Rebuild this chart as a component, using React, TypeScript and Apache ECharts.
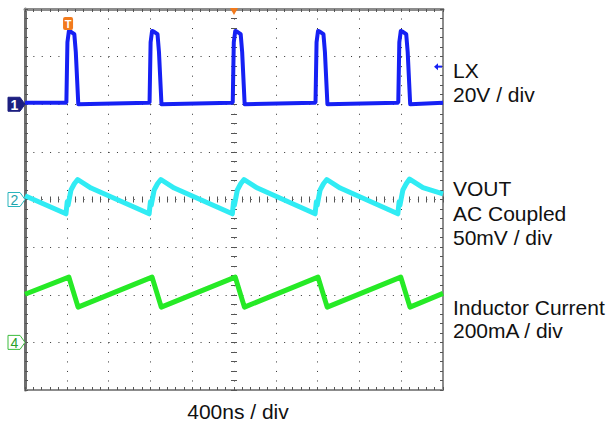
import React, { useEffect, useRef } from "react";
import * as echarts from "echarts";

// Time axis (ns), 400 ns per division, 10 divisions
const X_MIN = 0;
const X_MAX = 4000;
const X_STEP = 400;
// Vertical axis in screen divisions
const Y_MIN = -4;
const Y_MAX = 4;
const Y_STEP = 1;

// CH1 LX (divisions)
const lxTrace: [number, number][] = [
  [0, 2.03],
  [388, 2.03], [396, 2.05], [406, 3.3], [420, 3.54], [440, 3.52], [472, 3.47], [486, 3.1], [510, 2.0],
  [1184, 2.03], [1192, 2.05], [1202, 3.3], [1216, 3.54], [1236, 3.52], [1268, 3.47], [1282, 3.1], [1306, 2.0],
  [1980, 2.03], [1988, 2.05], [1998, 3.3], [2012, 3.54], [2032, 3.52], [2064, 3.47], [2078, 3.1], [2102, 2.0],
  [2772, 2.03], [2780, 2.05], [2790, 3.3], [2804, 3.54], [2824, 3.52], [2856, 3.47], [2870, 3.1], [2894, 2.0],
  [3564, 2.03], [3572, 2.05], [3582, 3.3], [3596, 3.54], [3616, 3.52], [3648, 3.47], [3662, 3.1], [3686, 2.0],
  [4000, 2.03],
];

// CH2 VOUT (divisions)
const voutTrace: [number, number][] = [
  [0, 0.08],
  [392, -0.3], [404, -0.05], [412, -0.12], [440, 0.2], [472, 0.33], [504, 0.42], [632, 0.24],
  [1188, -0.3], [1200, -0.05], [1208, -0.12], [1236, 0.2], [1268, 0.33], [1300, 0.42], [1428, 0.24],
  [1984, -0.3], [1996, -0.05], [2004, -0.12], [2032, 0.2], [2064, 0.33], [2096, 0.42], [2224, 0.24],
  [2776, -0.3], [2788, -0.05], [2796, -0.12], [2824, 0.2], [2856, 0.33], [2888, 0.42], [3016, 0.24],
  [3568, -0.3], [3580, -0.05], [3588, -0.12], [3616, 0.2], [3648, 0.33], [3680, 0.43], [3808, 0.25],
  [4000, 0.12],
];

// CH4 inductor current (divisions)
const currentTrace: [number, number][] = [
  [0, -1.99],
  [420, -1.63], [508, -2.26],
  [1216, -1.63], [1304, -2.26],
  [2012, -1.63], [2100, -2.26],
  [2804, -1.63], [2892, -2.26],
  [3596, -1.63], [3684, -2.26],
  [4000, -1.97],
];

const channelLabels = ["1", "2", "4"];
const channelLevels = [2, 0, -3];
const triggerTime = 412;
const triggerLevel = 2.79;

const sideTexts = ["LX", "20V / div", "VOUT", "AC Coupled", "50mV / div", "Inductor Current", "200mA / div"];
const timebaseText = "400ns / div";

const FONT = "'Liberation Sans', Arial, Helvetica, sans-serif";

export default function App() {
  const ref = useRef<HTMLDivElement>(null);
  useEffect(() => {
    if (!ref.current) return;
    const chart = echarts.init(ref.current, undefined, { renderer: "svg" });
    const gridW = 418;
    const gridH = 381;
    const tickStyle = { color: "#555", width: 1 };
    const xBase = {
      type: "value" as const,
      min: X_MIN,
      max: X_MAX,
      interval: X_STEP,
      axisLabel: { show: false },
      splitLine: { show: false },
    };
    const yBase = {
      type: "value" as const,
      min: Y_MIN,
      max: Y_MAX,
      interval: Y_STEP,
      axisLabel: { show: false },
      splitLine: { show: false },
    };
    chart.setOption({
      animation: false,
      backgroundColor: "#ffffff",
      grid: { left: 25, top: 9, width: gridW, height: gridH },
      xAxis: [
        {
          ...xBase,
          position: "bottom",
          axisLine: { show: true, onZero: false, lineStyle: { color: "#8c8c8c", width: 2 } },
          axisTick: { show: true, inside: true, length: 3, lineStyle: tickStyle },
          minorTick: { show: true, splitNumber: 5, length: 3, lineStyle: tickStyle },
          splitLine: { show: true, lineStyle: { type: [1, 8.525], color: "#333", width: 1 } },
        },
        {
          ...xBase,
          position: "top",
          axisLine: { show: true, onZero: false, lineStyle: { color: "#8c8c8c", width: 3 } },
          axisTick: { show: true, inside: true, length: 3, lineStyle: tickStyle },
          minorTick: { show: true, splitNumber: 5, length: 3, lineStyle: tickStyle },
        },
        {
          ...xBase,
          position: "bottom",
          offset: -gridH / 2,
          axisLine: { show: false, onZero: false },
          axisTick: { show: true, inside: false, length: 3, lineStyle: tickStyle },
          minorTick: { show: true, splitNumber: 5, length: 3, lineStyle: tickStyle },
        },
        {
          ...xBase,
          position: "top",
          offset: -gridH / 2,
          axisLine: { show: false, onZero: false },
          axisTick: { show: true, inside: false, length: 3, lineStyle: tickStyle },
          minorTick: { show: true, splitNumber: 5, length: 3, lineStyle: tickStyle },
        },
      ],
      yAxis: [
        {
          ...yBase,
          position: "left",
          axisLine: { show: true, onZero: false, lineStyle: { color: "#6e6e6e", width: 3 } },
          axisTick: { show: true, inside: true, length: 3, lineStyle: tickStyle },
          minorTick: { show: true, splitNumber: 5, length: 3, lineStyle: tickStyle },
          splitLine: { show: true, lineStyle: { type: [1, 7.36], color: "#333", width: 1 } },
        },
        {
          ...yBase,
          position: "right",
          axisLine: { show: true, onZero: false, lineStyle: { color: "#8c8c8c", width: 2 } },
          axisTick: { show: true, inside: true, length: 3, lineStyle: tickStyle },
          minorTick: { show: true, splitNumber: 5, length: 3, lineStyle: tickStyle },
        },
        {
          ...yBase,
          position: "left",
          offset: -gridW / 2,
          axisLine: { show: false, onZero: false },
          axisTick: { show: true, inside: false, length: 3, lineStyle: tickStyle },
          minorTick: { show: true, splitNumber: 5, length: 3, lineStyle: tickStyle },
        },
        {
          ...yBase,
          position: "right",
          offset: -gridW / 2,
          axisLine: { show: false, onZero: false },
          axisTick: { show: true, inside: false, length: 3, lineStyle: tickStyle },
          minorTick: { show: true, splitNumber: 5, length: 3, lineStyle: tickStyle },
        },
      ],
      series: [
        {
          type: "line",
          name: "LX",
          xAxisIndex: 0,
          yAxisIndex: 0,
          data: lxTrace,
          showSymbol: false,
          lineStyle: { color: "#1620f4", width: 4, join: "round" },
          z: 3,
        },
        {
          type: "line",
          name: "VOUT",
          xAxisIndex: 0,
          yAxisIndex: 0,
          data: voutTrace,
          showSymbol: false,
          lineStyle: { color: "#30ecf4", width: 5, join: "round" },
          z: 3,
        },
        {
          type: "line",
          name: "Inductor Current",
          xAxisIndex: 0,
          yAxisIndex: 0,
          data: currentTrace,
          showSymbol: false,
          lineStyle: { color: "#26ea26", width: 5, join: "round" },
          z: 3,
        },
      ],
    });

    const px = (t: number, v: number) => chart.convertToPixel({ seriesIndex: 0 }, [t, v]) as number[];
    const left = px(X_MIN, 0)[0];
    const right = px(X_MAX, 0)[0];
    const top = px(0, Y_MAX)[1];
    const graphics: any[] = [];

    const markerStyles = [
      { fill: "#1c1f80", stroke: "#1c1f80", text: "#ffffff", weight: "bold" },
      { fill: "#ffffff", stroke: "#2ab4bc", text: "#1ea4ac", weight: "normal" },
      { fill: "#ffffff", stroke: "#3cbc3c", text: "#2aa02a", weight: "normal" },
    ];
    channelLabels.forEach((lab, i) => {
      const y = px(0, channelLevels[i])[1];
      const s = markerStyles[i];
      graphics.push({
        type: "polygon",
        shape: {
          points: [
            [left - 17, y - 7],
            [left - 5, y - 7],
            [left, y],
            [left - 5, y + 7],
            [left - 17, y + 7],
          ],
        },
        style: { fill: s.fill, stroke: s.stroke, lineWidth: 1 },
        z: 10,
      });
      graphics.push({
        type: "text",
        x: left - 10.5,
        y: y + 0.5,
        style: {
          text: lab,
          fill: s.text,
          font: `${s.weight} 14px ${FONT}`,
          align: "center",
          verticalAlign: "middle",
        },
        z: 11,
      });
    });

    // trigger position marker "T"
    const tx = px(triggerTime, 0)[0];
    graphics.push({
      type: "rect",
      shape: { x: tx - 5, y: top + 8, width: 10, height: 13, r: 2 },
      style: { fill: "#f27a1c" },
      z: 10,
    });
    graphics.push({
      type: "text",
      x: tx,
      y: top + 14.5,
      style: { text: "T", fill: "#ffffff", font: `bold 11px ${FONT}`, align: "center", verticalAlign: "middle" },
      z: 11,
    });
    // center delay marker
    const cx = px((X_MIN + X_MAX) / 2, 0)[0];
    graphics.push({
      type: "polygon",
      shape: { points: [[cx - 4, top - 1], [cx + 4, top - 1], [cx, top + 6]] },
      style: { fill: "#f27a1c" },
      z: 10,
    });
    // trigger level marker
    const ty = px(0, triggerLevel)[1];
    graphics.push({
      type: "polygon",
      shape: { points: [[right - 9, ty], [right - 5, ty - 3.5], [right - 5, ty + 3.5]] },
      style: { fill: "#1620f4" },
      z: 10,
    });
    graphics.push({
      type: "line",
      shape: { x1: right - 6, y1: ty, x2: right - 1, y2: ty },
      style: { stroke: "#1620f4", lineWidth: 2 },
      z: 10,
    });

    const sideY = [70.5, 94, 188, 213, 237.5, 307, 330.5];
    sideTexts.forEach((t, i) => {
      graphics.push({
        type: "text",
        x: 453,
        y: sideY[i],
        style: { text: t, fill: "#111", font: `21px ${FONT}`, align: "left", verticalAlign: "middle" },
        z: 10,
      });
    });
    graphics.push({
      type: "text",
      x: 238,
      y: 411,
      style: { text: timebaseText, fill: "#111", font: `21px ${FONT}`, align: "center", verticalAlign: "middle" },
      z: 10,
    });

    chart.setOption({ graphic: graphics });
    return () => chart.dispose();
  }, []);
  return (
    <div
      ref={ref}
      style={{ position: "fixed", left: 0, top: 0, width: 612, height: 427, background: "#fff" }}
    />
  );
}
